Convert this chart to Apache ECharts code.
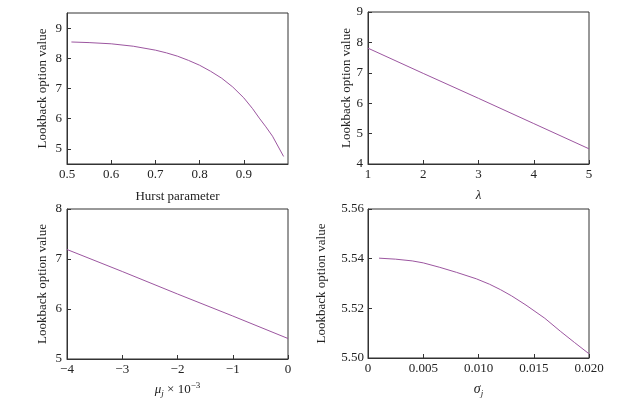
<!DOCTYPE html>
<html>
<head>
<meta charset="utf-8">
<script src="https://cdn.jsdelivr.net/npm/echarts@6/dist/echarts.min.js"></script>
<style>html,body{margin:0;padding:0;background:#fff}#c{width:627px;height:399px}</style>
</head>
<body>
<div id="c"></div>
<script>
// Panel (a): Hurst parameter
const hurstX = [0.51, 0.55, 0.60, 0.65, 0.70, 0.725, 0.75, 0.775, 0.80, 0.825, 0.85, 0.875, 0.90, 0.92, 0.935, 0.95, 0.965, 0.99];
const hurstY = [8.54, 8.52, 8.48, 8.40, 8.27, 8.18, 8.07, 7.93, 7.77, 7.57, 7.34, 7.05, 6.69, 6.33, 6.02, 5.73, 5.42, 4.75];
// Panel (b): lambda
const lambdaX = [1, 2, 3, 4, 5];
const lambdaY = [7.81, 6.98, 6.16, 5.33, 4.50];
// Panel (c): mu_j x 1e-3
const muX = [-4, -3, -2, -1, 0];
const muY = [7.19, 6.75, 6.30, 5.86, 5.41];
// Panel (d): sigma_j
const sigmaX = [0.001, 0.0025, 0.004, 0.005, 0.0065, 0.008, 0.0098, 0.011, 0.012, 0.013, 0.0143, 0.016, 0.0174, 0.0187, 0.020];
const sigmaY = [5.5402, 5.5398, 5.5391, 5.5383, 5.5365, 5.5345, 5.5319, 5.5297, 5.5275, 5.5250, 5.5213, 5.5160, 5.5108, 5.5062, 5.5017];
// Tick labels
const hurstYTicks = [5, 6, 7, 8, 9];

const FONT = 'Liberation Serif';
const TXT = '#222';
const LINE = '#9c56a0';

function pairs(xs, ys) { return xs.map((x, i) => [x, ys[i]]); }

function xAxis(idx, o) {
  return Object.assign({
    type: 'value', gridIndex: idx, nameLocation: 'middle',
    axisLine: { show: true, onZero: false, lineStyle: { color: '#333', width: 1 } },
    axisTick: { show: true, inside: true, length: 4, lineStyle: { color: '#333' } },
    axisLabel: { color: TXT, fontFamily: FONT, fontSize: 13, margin: 4 },
    splitLine: { show: false },
    nameTextStyle: { color: TXT, fontFamily: FONT, fontSize: 13 }
  }, o);
}
function yAxis(idx, o) {
  return Object.assign({
    type: 'value', gridIndex: idx, nameLocation: 'middle', nameGap: 18,
    name: 'Lookback option value',
    axisLine: { show: true, onZero: false, lineStyle: { color: '#333', width: 1 } },
    axisTick: { show: true, inside: true, length: 4, lineStyle: { color: '#333' } },
    axisLabel: { color: TXT, fontFamily: FONT, fontSize: 13, margin: 5 },
    splitLine: { show: false },
    nameTextStyle: { color: TXT, fontFamily: FONT, fontSize: 13 }
  }, o);
}

const gridBase = { show: true, borderColor: '#333', borderWidth: 1, backgroundColor: 'transparent' };

const option = {
  animation: false,
  backgroundColor: '#fff',
  grid: [
    Object.assign({ left: 67, top: 13, width: 221, height: 151 }, gridBase),
    Object.assign({ left: 368, top: 12, width: 221, height: 152 }, gridBase),
    Object.assign({ left: 67, top: 209, width: 221, height: 151 }, gridBase),
    Object.assign({ left: 368, top: 209, width: 221, height: 151 }, gridBase)
  ],
  xAxis: [
    xAxis(0, { min: 0.5, max: 1.0, interval: 0.1, name: 'Hurst parameter', nameGap: 26,
      axisLabel: { color: TXT, fontFamily: FONT, fontSize: 13, margin: 4, showMaxLabel: false,
        formatter: v => v.toFixed(1) } }),
    xAxis(1, { min: 1, max: 5, interval: 1, name: '{i|λ}', nameGap: 25,
      nameTextStyle: { color: TXT, fontFamily: FONT, fontSize: 13,
        rich: { i: { fontFamily: FONT, fontStyle: 'italic', fontSize: 13, color: TXT } } } }),
    xAxis(2, { min: -4, max: 0, interval: 1, name: '{i|μ}{s|j}{n| × 10}{p|−3}', nameGap: 22,
      axisLabel: { color: TXT, fontFamily: FONT, fontSize: 13, margin: 4,
        formatter: v => v < 0 ? '\u2212' + Math.abs(v) : String(v) },
      nameTextStyle: { color: TXT, fontFamily: FONT, fontSize: 13,
        rich: {
          i: { fontFamily: FONT, fontStyle: 'italic', fontSize: 13, color: TXT, height: 16, verticalAlign: 'middle' },
          s: { fontFamily: FONT, fontStyle: 'italic', fontSize: 9, color: TXT, padding: [8, 0, 0, 0], verticalAlign: 'bottom' },
          n: { fontFamily: FONT, fontSize: 13, color: TXT, verticalAlign: 'middle' },
          p: { fontFamily: FONT, fontSize: 9, color: TXT, padding: [0, 0, 8, 0], verticalAlign: 'top' }
        } } }),
    xAxis(3, { min: 0, max: 0.02, interval: 0.005, name: '{i|σ}{s|j}', nameGap: 23,
      axisLabel: { color: TXT, fontFamily: FONT, fontSize: 13, margin: 4,
        formatter: v => Math.abs(v) < 1e-12 ? '0' : v.toFixed(3) },
      nameTextStyle: { color: TXT, fontFamily: FONT, fontSize: 13,
        rich: {
          i: { fontFamily: FONT, fontStyle: 'italic', fontSize: 14, color: TXT, verticalAlign: 'middle' },
          s: { fontFamily: FONT, fontStyle: 'italic', fontSize: 9, color: TXT, padding: [8, 0, 0, 0], verticalAlign: 'bottom' }
        } } })
  ],
  yAxis: [
    yAxis(0, { min: 4.5, max: 9.5, nameGap: 18,
      axisLabel: { color: TXT, fontFamily: FONT, fontSize: 13, margin: 5, customValues: hurstYTicks },
      axisTick: { show: true, inside: true, length: 4, lineStyle: { color: '#333' }, customValues: hurstYTicks } }),
    yAxis(1, { min: 4, max: 9, interval: 1, nameGap: 15 }),
    yAxis(2, { min: 5, max: 8, interval: 1, nameGap: 18 }),
    yAxis(3, { min: 5.5, max: 5.56, interval: 0.02, nameGap: 40,
      axisLabel: { color: TXT, fontFamily: FONT, fontSize: 13, margin: 4, formatter: v => v.toFixed(2) } })
  ],
  series: [
    { type: 'line', xAxisIndex: 0, yAxisIndex: 0, data: pairs(hurstX, hurstY), symbol: 'none', lineStyle: { color: LINE, width: 1 } },
    { type: 'line', xAxisIndex: 1, yAxisIndex: 1, data: pairs(lambdaX, lambdaY), symbol: 'none', lineStyle: { color: LINE, width: 1 } },
    { type: 'line', xAxisIndex: 2, yAxisIndex: 2, data: pairs(muX, muY), symbol: 'none', lineStyle: { color: LINE, width: 1 } },
    { type: 'line', xAxisIndex: 3, yAxisIndex: 3, data: pairs(sigmaX, sigmaY), symbol: 'none', lineStyle: { color: LINE, width: 1 } }
  ]
};
const chart = echarts.init(document.getElementById('c'), null, { renderer: 'canvas' });
chart.setOption(option);
</script>
</body>
</html>
